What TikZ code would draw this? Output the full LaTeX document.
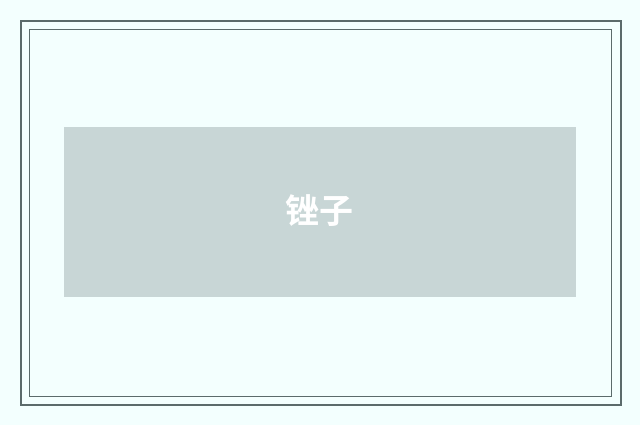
\documentclass[tikz,border=0pt]{standalone}
\usepackage{fontspec}
\newfontfamily\cjk{Noto Sans CJK SC Bold}
\definecolor{bgcyan}{HTML}{F3FFFE}
\definecolor{framegray}{HTML}{5B6B6B}
\definecolor{panelgray}{HTML}{C8D6D6}
\begin{document}
\begin{tikzpicture}[line cap=rect,line join=miter,x=1pt,y=-1pt]
			\useasboundingbox (0,0) rectangle (640,425);
			\fill [color=bgcyan] (0,0) rectangle (640,425);
			\draw [line width=2pt,color=framegray] (21,21) rectangle (621,405);
			\draw [line width=1pt,color=framegray] (29.5,29.5) rectangle (611.5,396.5);
			\fill [color=panelgray] (64,127) rectangle (576,297);
			\node [text=white,font=\cjk\fontsize{34}{34}\selectfont] (label) at (319,211) {锉子};
		\end{tikzpicture}
\end{document}
